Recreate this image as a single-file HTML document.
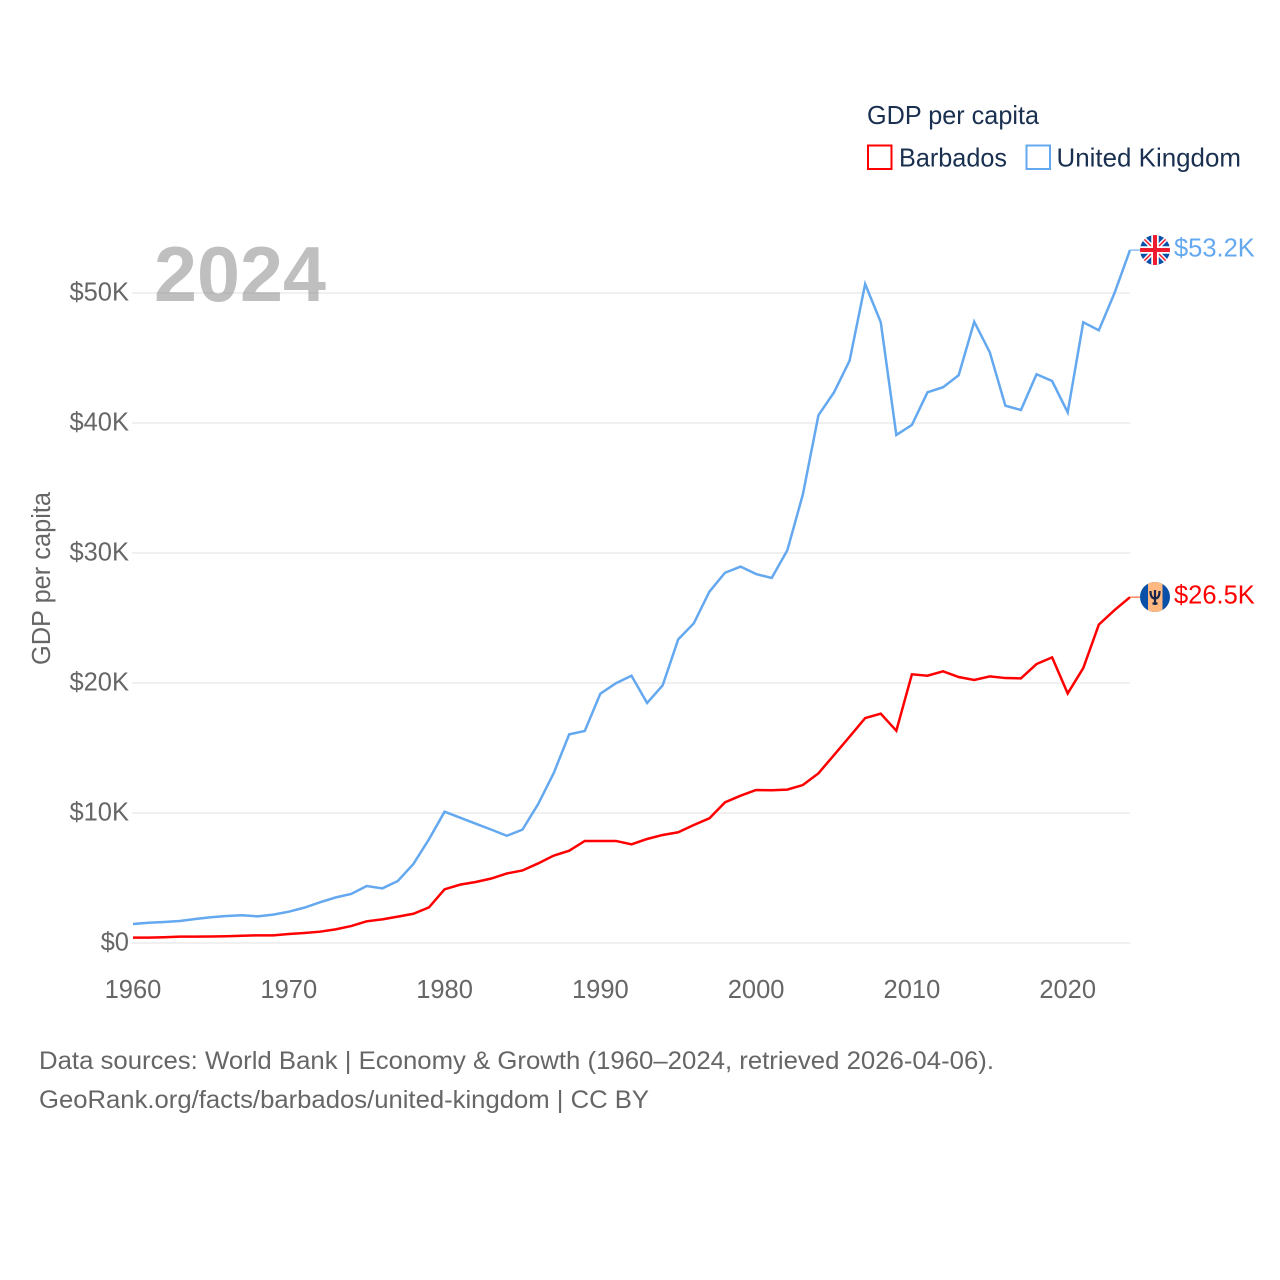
<!DOCTYPE html>
<html lang="en">
<head>
<meta charset="utf-8">
<title>GDP per capita: Barbados and United Kingdom</title>
<style>
html,body{margin:0;padding:0;background:#fff;}
svg{display:block;font-family:"Liberation Sans",sans-serif;}
.tick{font-size:25.5px;fill:#666;}
.legend{font-size:26px;fill:#1a3050;}
.foot{font-size:25px;fill:#666;}
</style>
</head>
<body>
<svg id="chart" xmlns="http://www.w3.org/2000/svg" width="1280" height="1280" viewBox="0 0 1280 1280">
<defs>
<clipPath id="flag-clip-uk"><circle cx="1155" cy="250" r="15"></circle></clipPath>
<clipPath id="flag-clip-bb"><circle cx="1155" cy="597" r="15"></circle></clipPath>
</defs>
<rect width="1280" height="1280" fill="#fff"></rect>
<g id="grid"></g>
<text x="154" y="301" font-size="78" font-weight="700" fill="#808080" fill-opacity="0.5" textLength="172" lengthAdjust="spacingAndGlyphs">2024</text>
<g id="y-ticks"></g>
<g id="x-ticks"></g>
<text class="tick" transform="translate(50,578.5) rotate(-90)" text-anchor="middle" textLength="173" lengthAdjust="spacingAndGlyphs">GDP per capita</text>
<g id="series"></g>

<g>
<text class="legend" x="867" y="124" textLength="172" lengthAdjust="spacingAndGlyphs">GDP per capita</text>
<g>
<rect x="868" y="145.5" width="23.5" height="23.5" fill="#fff" stroke="#ff0000" stroke-width="2"></rect>
<text class="legend" x="899" y="166.5" textLength="108" lengthAdjust="spacingAndGlyphs">Barbados</text>
</g>
<g>
<rect x="1026.5" y="145.5" width="23.5" height="23.5" fill="#fff" stroke="#64a8ef" stroke-width="2"></rect>
<text class="legend" x="1056.5" y="166.5" textLength="184.5" lengthAdjust="spacingAndGlyphs">United Kingdom</text>
</g>
</g>

<g clip-path="url(#flag-clip-uk)">
<rect x="1140" y="235" width="30" height="30" fill="#0b50a8"></rect>
<path d="M1140 235L1170 265M1170 235L1140 265" stroke="#fff" stroke-width="4.5"></path>
<path d="M1140 235L1170 265M1170 235L1140 265" stroke="#ee1c2e" stroke-width="1.5"></path>
<path d="M1155 235V265M1140 250H1170" stroke="#fff" stroke-width="7.5"></path>
<path d="M1155 235V265M1140 250H1170" stroke="#ee1c2e" stroke-width="4"></path>
</g>
<g clip-path="url(#flag-clip-bb)">
<rect x="1140" y="582" width="30" height="30" fill="#0b50a8"></rect>
<rect x="1148" y="582" width="14.5" height="30" fill="#ffb980"></rect>
<path d="M1150.5 591c0 5 1.5 7.5 4.5 7.5s4.5-2.5 4.5-7.5M1155 590V605M1152.5 603.5h5" fill="none" stroke="#15264a" stroke-width="2.2"></path>
</g>
<text id="label-uk" class="tick" x="1174" y="256.5" style="fill:#64a8ef"></text>
<text id="label-bb" class="tick" x="1174" y="603.5" style="fill:#ff0000"></text>

<text class="foot" x="39" y="1069" textLength="955" lengthAdjust="spacingAndGlyphs">Data sources: World Bank | Economy &amp; Growth (1960–2024, retrieved 2026-04-06).</text>
<text class="foot" x="39" y="1108" textLength="610" lengthAdjust="spacingAndGlyphs">GeoRank.org/facts/barbados/united-kingdom | CC BY</text>
</svg>
<script>
const years = [1960,1961,1962,1963,1964,1965,1966,1967,1968,1969,1970,1971,1972,1973,1974,1975,1976,1977,1978,1979,1980,1981,1982,1983,1984,1985,1986,1987,1988,1989,1990,1991,1992,1993,1994,1995,1996,1997,1998,1999,2000,2001,2002,2003,2004,2005,2006,2007,2008,2009,2010,2011,2012,2013,2014,2015,2016,2017,2018,2019,2020,2021,2022,2023,2024];
const ukValues = [1.46,1.56,1.62,1.69,1.85,1.98,2.08,2.13,2.05,2.18,2.41,2.72,3.13,3.5,3.77,4.38,4.2,4.77,6.08,7.98,10.1,9.64,9.18,8.72,8.25,8.72,10.67,13.05,16.05,16.31,19.18,19.98,20.56,18.46,19.82,23.36,24.59,27.02,28.48,28.95,28.38,28.08,30.2,34.5,40.6,42.36,44.79,50.69,47.75,39.08,39.85,42.36,42.75,43.67,47.79,45.44,41.33,41.0,43.75,43.23,40.82,47.75,47.13,49.98,53.3];
const barbadosValues = [0.41,0.41,0.44,0.49,0.49,0.5,0.52,0.56,0.59,0.59,0.69,0.77,0.87,1.05,1.3,1.67,1.82,2.03,2.25,2.74,4.13,4.49,4.69,4.96,5.35,5.58,6.12,6.72,7.1,7.85,7.85,7.85,7.59,8.0,8.31,8.52,9.08,9.59,10.82,11.33,11.77,11.75,11.8,12.15,13.05,14.46,15.87,17.3,17.64,16.33,20.67,20.56,20.9,20.46,20.23,20.51,20.38,20.36,21.46,21.97,19.2,21.15,24.49,25.6,26.6];
const yTickValues = [0,10,20,30,40,50];
const xTickValues = [1960,1970,1980,1990,2000,2010,2020];
const ukEndLabel = "$53.2K";
const barbadosEndLabel = "$26.5K";

const NS = "http://www.w3.org/2000/svg";
const xScale = function (year) { return 133 + (year - 1960) * (1130 - 133) / 64; };
const yScale = function (value) { return 943 - value * 13; };
const yLabel = function (value) { return value === 0 ? "$0" : "$" + value + "K"; };

const grid = document.getElementById("grid");
const yTicks = document.getElementById("y-ticks");
const xTicks = document.getElementById("x-ticks");
const series = document.getElementById("series");

yTickValues.forEach(function (value) {
  const line = document.createElementNS(NS, "line");
  
  
  line.setAttribute("x1", 132);
  line.setAttribute("x2", 1130);
  line.setAttribute("y1", yScale(value));
  line.setAttribute("y2", yScale(value));
  line.setAttribute("stroke", "#f0f0f0");
  line.setAttribute("stroke-width", 2);
  grid.appendChild(line);

  const label = document.createElementNS(NS, "text");
  
  
  label.setAttribute("class", "tick");
  label.setAttribute("x", 129);
  label.setAttribute("y", yScale(value) + 7.5);
  label.setAttribute("text-anchor", "end");
  label.textContent = yLabel(value);
  yTicks.appendChild(label);
});

xTickValues.forEach(function (year) {
  const label = document.createElementNS(NS, "text");
  
  
  label.setAttribute("class", "tick");
  label.setAttribute("x", xScale(year));
  label.setAttribute("y", 998);
  label.setAttribute("text-anchor", "middle");
  label.textContent = String(year);
  xTicks.appendChild(label);
});

function pathFor(values) {
  return values.map(function (value, i) {
    return (i ? "L" : "M") + xScale(years[i]).toFixed(2) + " " + yScale(value).toFixed(2);
  }).join("");
}

const ukLine = document.createElementNS(NS, "path");


ukLine.setAttribute("d", pathFor(ukValues));
ukLine.setAttribute("fill", "none");
ukLine.setAttribute("stroke", "#64a8ef");
ukLine.setAttribute("stroke-width", 2.5);
series.appendChild(ukLine);

const barbadosLine = document.createElementNS(NS, "path");


barbadosLine.setAttribute("d", pathFor(barbadosValues));
barbadosLine.setAttribute("fill", "none");
barbadosLine.setAttribute("stroke", "#ff0000");
barbadosLine.setAttribute("stroke-width", 2.5);
series.appendChild(barbadosLine);

const ukConnector = document.createElementNS(NS, "line");


ukConnector.setAttribute("x1", xScale(years[years.length - 1]));
ukConnector.setAttribute("x2", 1140);
ukConnector.setAttribute("y1", yScale(ukValues[ukValues.length - 1]));
ukConnector.setAttribute("y2", yScale(ukValues[ukValues.length - 1]));
ukConnector.setAttribute("stroke", "#8fbff2");
ukConnector.setAttribute("stroke-width", 1.5);
series.appendChild(ukConnector);

const barbadosConnector = document.createElementNS(NS, "line");


barbadosConnector.setAttribute("x1", xScale(years[years.length - 1]));
barbadosConnector.setAttribute("x2", 1140);
barbadosConnector.setAttribute("y1", yScale(barbadosValues[barbadosValues.length - 1]));
barbadosConnector.setAttribute("y2", yScale(barbadosValues[barbadosValues.length - 1]));
barbadosConnector.setAttribute("stroke", "#ff8a5c");
barbadosConnector.setAttribute("stroke-width", 1.5);
series.appendChild(barbadosConnector);

document.getElementById("label-uk").textContent = ukEndLabel;
document.getElementById("label-bb").textContent = barbadosEndLabel;
</script>
</body>
</html>
